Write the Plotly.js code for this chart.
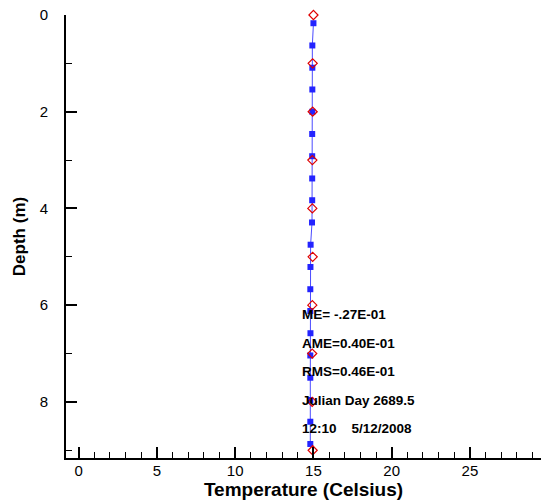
<!DOCTYPE html>
<html>
<head>
<meta charset="utf-8">
<script src="https://cdn.plot.ly/plotly-3.0.1.min.js"></script>
<style>
  html, body { margin: 0; padding: 0; background: #ffffff; }
  #chart { width: 541px; height: 503px; }
</style>
</head>
<body>
<div id="chart"></div>
<script>
// Observed temperature profile (red open diamonds)
const obsDepth = [0, 1, 2, 3, 4, 5, 6, 7, 8, 9];
const obsTemp  = [15.0, 14.95, 14.95, 14.93, 14.93, 14.95, 14.93, 14.92, 14.92, 14.95];

// Modelled temperature profile (blue squares with line)
const modDepth = [0.17, 0.63, 1.09, 1.54, 2.0, 2.46, 2.92, 3.38, 3.83, 4.29,
                  4.75, 5.21, 5.67, 6.12, 6.58, 7.04, 7.5, 7.96, 8.41, 8.87];
const modTemp  = [15.0, 14.93, 14.93, 14.93, 14.93, 14.92, 14.92, 14.92, 14.92, 14.91,
                  14.82, 14.81, 14.8, 14.8, 14.81, 14.8, 14.8, 14.8, 14.8, 14.8];

// Statistics text block
const statLines = ['ME= -.27E-01', 'AME=0.40E-01', 'RMS=0.46E-01',
                   'Julian Day 2689.5', '12:10\u00a0\u00a0\u00a0 5/12/2008'];

const xTickVals = [0, 5, 10, 15, 20, 25];
const yTickVals = [0, 2, 4, 6, 8];

const FONT = 'Arial, "Liberation Sans", Helvetica, sans-serif';

const traces = [
  {
    x: modTemp, y: modDepth, type: 'scatter', mode: 'lines+markers',
    line: { color: '#4b4bff', width: 1 },
    marker: { symbol: 'square', size: 6, color: '#2323ff' },
    cliponaxis: false, hoverinfo: 'skip', showlegend: false
  },
  {
    x: obsTemp, y: obsDepth, type: 'scatter', mode: 'markers',
    marker: { symbol: 'diamond-open', size: 7, color: '#e00000', line: { width: 1.2, color: '#e00000' } },
    cliponaxis: false, hoverinfo: 'skip', showlegend: false
  }
];

const statY = [6.19, 6.79, 7.37, 7.97, 8.55];
const annotations = statLines.map((t, i) => ({
  text: '<b>' + t + '</b>', x: 14.14, y: statY[i], xref: 'x', yref: 'y',
  xanchor: 'left', yanchor: 'middle', showarrow: false,
  font: { family: FONT, size: 13.5, color: '#000' }
}));

const layout = {
  width: 541, height: 503,
  margin: { l: 66, r: 0, t: 15, b: 45 },
  paper_bgcolor: '#ffffff', plot_bgcolor: '#ffffff',
  font: { family: FONT, color: '#000' },
  showlegend: false,
  xaxis: {
    range: [-0.81, 29.54], showgrid: false, zeroline: false,
    showline: true, linecolor: '#000', linewidth: 2,
    ticks: 'inside', ticklen: 11, tickwidth: 2, tickcolor: '#000',
    ticklabelstandoff: -2,
    tickvals: xTickVals, ticktext: xTickVals.map(String),
    tickfont: { family: FONT, size: 15, color: '#000' },
    minor: { dtick: 1, ticks: 'inside', ticklen: 6, tickwidth: 1, tickcolor: '#000', showgrid: false },
    title: { text: '<b>Temperature (Celsius)</b>', font: { family: FONT, size: 19, color: '#000' }, standoff: 3 }
  },
  yaxis: {
    range: [9.16, 0], showgrid: false, zeroline: false,
    showline: true, linecolor: '#000', linewidth: 2,
    ticks: 'inside', ticklen: 11, tickwidth: 2, tickcolor: '#000',
    ticklabelstandoff: 13,
    tickvals: yTickVals, ticktext: yTickVals.map(String),
    tickfont: { family: FONT, size: 15, color: '#000' },
    minor: { dtick: 1, ticks: 'inside', ticklen: 6, tickwidth: 1, tickcolor: '#000', showgrid: false },
    title: { text: '<b>Depth (m)</b>', font: { family: FONT, size: 17, color: '#000' }, standoff: 10 }
  },
  annotations: annotations
};

Plotly.newPlot('chart', traces, layout, { staticPlot: true, displayModeBar: false });
</script>
</body>
</html>
